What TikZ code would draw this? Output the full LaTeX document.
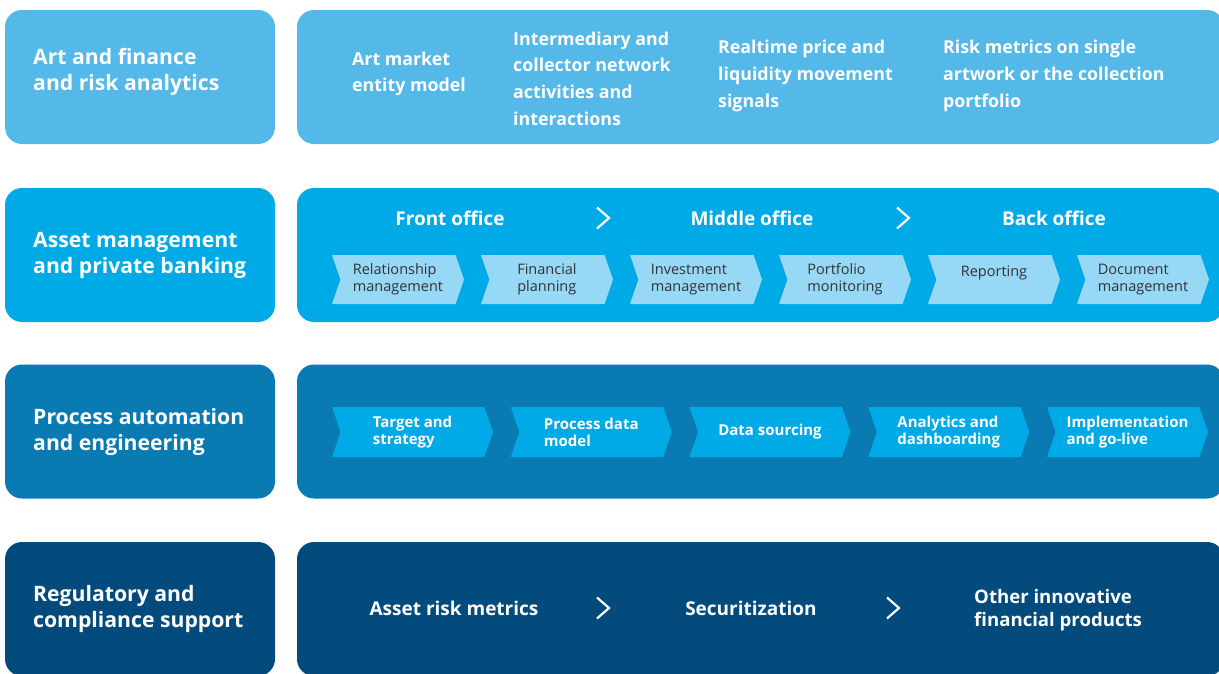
\documentclass[tikz,border=0pt]{standalone}
\usepackage{fontspec}
\setmainfont{Open Sans}
\usetikzlibrary{shapes.symbols}
\definecolor{artblue}{RGB}{84,184,232}
\definecolor{assetblue}{RGB}{0,170,230}
\definecolor{procblue}{RGB}{10,122,179}
\definecolor{regblue}{RGB}{3,75,125}
\definecolor{chevlight}{RGB}{150,216,245}
\definecolor{chevtext}{RGB}{51,51,51}

\begin{document}
\begin{tikzpicture}[x=1pt, y=-1pt,
  rowbox/.style={rounded corners=17pt, minimum height=134pt, inner sep=0pt},
  headbox/.style={rowbox, minimum width=270pt},
  headtext/.style={anchor=west, align=left, text=white, inner sep=0pt,
    font=\bfseries\fontsize{21.2}{26}\selectfont},
  panel/.style={rowbox, minimum width=927pt},
  artitem/.style={anchor=west, align=left, text=white, inner sep=0pt,
    font=\bfseries\fontsize{17.8}{26.7}\selectfont},
  title/.style={text=white, inner sep=0pt, font=\bfseries\fontsize{19}{23}\selectfont},
  chev/.style={shape=signal, signal from=west, signal to=east, signal pointer angle=142,
    inner sep=0pt, align=left},
  sepmark/.style={draw=white, line width=2.2pt}]
  \useasboundingbox[fill=white] (0,0) rectangle (1219,673);

  % ===== left column: area headers =====
  \node[headbox, fill=artblue] (art) at (140,77) {};
  \node[headbox, fill=assetblue] (asset) at (140,255) {};
  \node[headbox, fill=procblue] (proc) at (140,431.5) {};
  \node[headbox, fill=regblue] (reg) at (140,609) {};
  \node[headtext] (artlabel) at (33,72) {Art and finance\\and risk analytics};
  \node[headtext] (assetlabel) at (33,255) {Asset management\\and private banking};
  \node[headtext] (proclabel) at (33,432) {Process automation\\and engineering};
  \node[headtext] (reglabel) at (33,609) {Regulatory and\\compliance support};

  % ===== right column: panels =====
  \node[panel, fill=artblue] (artpanel) at (760.5,77) {};
  \node[panel, fill=assetblue] (assetpanel) at (760.5,255) {};
  \node[panel, fill=procblue] (procpanel) at (760.5,431.5) {};
  \node[panel, fill=regblue] (regpanel) at (760.5,609) {};

  % row 1: analytics items
  \node[artitem] (entity) at (352,74) {Art market\\entity model};
  \node[artitem] (network) at (513,78.5) {Intermediary and\\collector network\\activities and\\interactions};
  \node[artitem] (signals) at (718,76) {Realtime price and\\liquidity movement\\signals};
  \node[artitem] (riskm) at (943,76) {Risk metrics on single\\artwork or the collection\\portfolio};

  % row 2: front / middle / back office
  \node[title] (front) at (450,218) {Front office};
  \node[title] (middle) at (752,218) {Middle office};
  \node[title] (back) at (1054,218) {Back office};
  \foreach \i/\name/\txt in {0/relation/{Relationship\\management}, 1/planning/{Financial\\planning},
      2/invest/{Investment\\management}, 3/monitor/{Portfolio\\monitoring},
      4/report/{Reporting\\\mbox{}}, 5/docs/{Document\\management}}
    \node[chev, fill=chevlight, text=chevtext, minimum width=132pt, minimum height=49pt,
      font=\fontsize{14.5}{17}\selectfont] (\name) at (398+149*\i,279.5) {\txt};

  % row 3: process steps
  \foreach \i/\name/\txt in {0/target/{Target and\\strategy}, 1/datamodel/{Process data\\model},
      2/sourcing/{Data sourcing}, 3/dashboard/{Analytics and\\dashboarding},
      4/golive/{Implementation\\and go-live}}
    \node[chev, fill=assetblue, text=white, minimum width=161pt, minimum height=50pt,
      font=\bfseries\fontsize{15}{17}\selectfont] (\name) at (412.5+178.75*\i,432) {\txt};

  % row 4: regulatory products
  \node[title] (riskmetrics) at (454,608) {Asset risk metrics};
  \node[title] (securit) at (751,608) {Securitization};
  \node[title, anchor=west, align=left, font=\bfseries\fontsize{18.6}{23}\selectfont] (otherprod) at (974,610)
    {Other innovative\\financial products};

  % ===== separators =====
  \foreach \sx/\sy in {603/218, 903/218, 603/608, 893/608}
    \draw[sepmark] (\sx-6,\sy-10.5) -- (\sx+6,\sy) -- (\sx-6,\sy+10.5);
\end{tikzpicture}
\end{document}
